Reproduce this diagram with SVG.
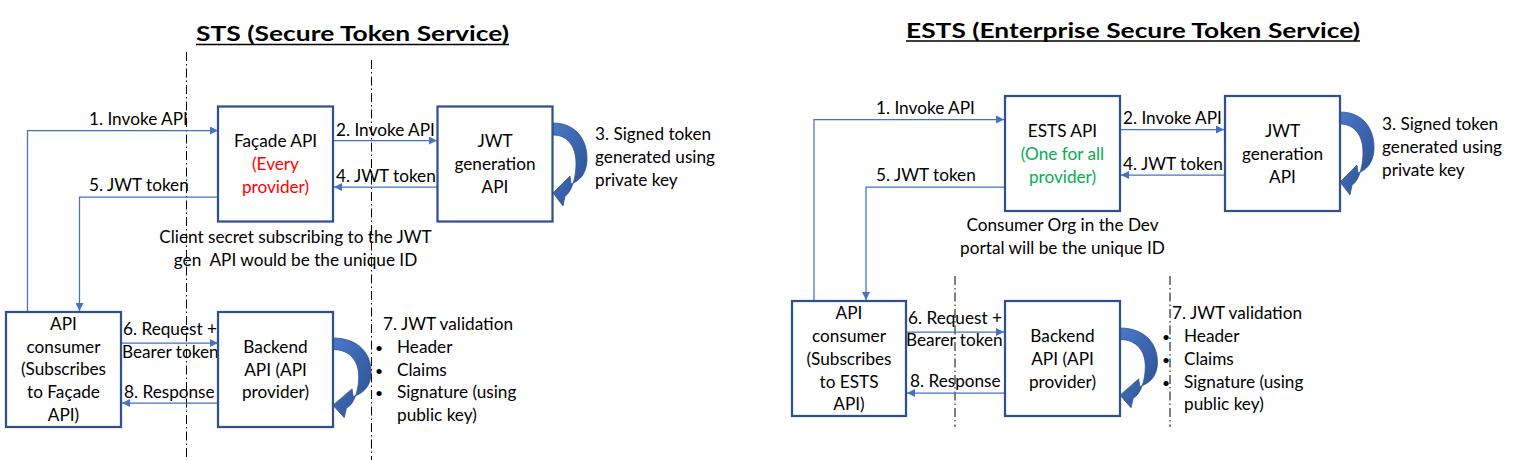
<svg xmlns="http://www.w3.org/2000/svg" width="1516" height="460" viewBox="0 0 1516 460">
<style>
text{font-family:Lato,"Liberation Sans",sans-serif;font-size:17.2px;fill:#000}
.c{text-anchor:middle}
.title{font-weight:bold;font-size:20px}
.red{fill:#FF0000}
.green{fill:#00B050}
.bul{font-size:14px}
.box{fill:#fff;stroke:#2F528F;stroke-width:2.25}
.con{fill:none;stroke:#4472C4;stroke-width:1.25}
.guide{fill:none;stroke:#000;stroke-width:1;stroke-dasharray:9 3 1.5 3}
.uline{stroke:#000;stroke-width:1.6}
</style>
<defs>
<marker id="ah" viewBox="0 0 10 10" refX="10" refY="5" markerWidth="10" markerHeight="8" markerUnits="userSpaceOnUse" orient="auto">
<path d="M0,0 L10,5 L0,10 z" fill="#4472C4"/>
</marker>
<linearGradient id="cg" x1="0" y1="0" x2="1" y2="1">
<stop offset="0" stop-color="#4A78C8"/>
<stop offset="1" stop-color="#2B4F90"/>
</linearGradient>
<path id="curl" d="M0,0 C24,0 35,18 34,38 C33,52 26,58 18,61 L17,53 L0,70 L10,83 L12,73 C18,70 23,56 23,40 C23,24 15,12 0,12 Z" fill="url(#cg)" stroke="#2F528F" stroke-width="0.75"/>
</defs>

<!-- titles -->
<g id="title-sts">
<text class="title" x="196" y="41" textLength="313" lengthAdjust="spacingAndGlyphs">STS (Secure Token Service)</text>
<line class="uline" x1="196" y1="44.5" x2="509" y2="44.5"/>
</g>
<g id="title-ests">
<text class="title" x="906" y="37.5" textLength="454" lengthAdjust="spacingAndGlyphs">ESTS (Enterprise Secure Token Service)</text>
<line class="uline" x1="906" y1="41" x2="1360" y2="41"/>
</g>

<!-- guide lines -->
<g id="guides">
<line class="guide" x1="186.5" y1="52" x2="186.5" y2="460"/>
<line class="guide" x1="371.5" y1="60" x2="371.5" y2="460"/>
<line class="guide" x1="955" y1="276" x2="955" y2="427"/>
<line class="guide" x1="1170" y1="276" x2="1170" y2="427"/>
</g>

<!-- connectors -->
<g id="connectors">
<path class="con" d="M27.5,312 V130.5 H218" marker-end="url(#ah)"/>
<path class="con" d="M220,197 H79.5 V311" marker-end="url(#ah)"/>
<path class="con" d="M333,140.5 H437" marker-end="url(#ah)"/>
<path class="con" d="M437,187 H334" marker-end="url(#ah)"/>
<path class="con" d="M121,343 H218" marker-end="url(#ah)"/>
<path class="con" d="M218,403 H122" marker-end="url(#ah)"/>

<path class="con" d="M814,301 V119.5 H1004" marker-end="url(#ah)"/>
<path class="con" d="M1005,187 H866 V300" marker-end="url(#ah)"/>
<path class="con" d="M1120,129.5 H1224" marker-end="url(#ah)"/>
<path class="con" d="M1225,175 H1121" marker-end="url(#ah)"/>
<path class="con" d="M906,332 H1004" marker-end="url(#ah)"/>
<path class="con" d="M1005,393 H907" marker-end="url(#ah)"/>

<use href="#curl" transform="translate(553,123)"/>
<use href="#curl" transform="translate(333,338) scale(1.12,0.96)"/>
<use href="#curl" transform="translate(1340,112)"/>
<use href="#curl" transform="translate(1120,328) scale(1.1,0.96)"/>
</g>

<!-- connector labels -->
<g id="labels">
<text x="89" y="125">1. Invoke API</text>
<text x="89" y="191">5. JWT token</text>
<text x="336" y="136">2. Invoke API</text>
<text x="336" y="181.5">4. JWT token</text>
<text x="595" y="140">3. Signed token</text>
<text x="595" y="163">generated using</text>
<text x="595" y="186">private key</text>
<text class="c" x="295.5" y="243">Client secret subscribing to the JWT</text>
<text class="c" x="295.5" y="266" xml:space="preserve">gen  API would be the unique ID</text>
<text x="123" y="335">6. Request +</text>
<text x="122" y="357.5">Bearer token</text>
<text x="124" y="397.5">8. Response</text>
<text x="383" y="330">7. JWT validation</text>
<text class="bul" x="375" y="353">•</text>
<text x="397" y="353">Header</text>
<text class="bul" x="375" y="375.5">•</text>
<text x="397" y="375.5">Claims</text>
<text class="bul" x="375" y="398">•</text>
<text x="397" y="398">Signature (using</text>
<text x="397" y="420.5">public key)</text>

<text x="876" y="113.5">1. Invoke API</text>
<text x="876" y="180.5">5. JWT token</text>
<text x="1123" y="123.5">2. Invoke API</text>
<text x="1123" y="170">4. JWT token</text>
<text x="1382" y="129.5">3. Signed token</text>
<text x="1382" y="152.5">generated using</text>
<text x="1382" y="175.5">private key</text>
<text class="c" x="1062.5" y="231">Consumer Org in the Dev</text>
<text class="c" x="1062.5" y="254">portal will be the unique ID</text>
<text x="908" y="323.5">6. Request +</text>
<text x="906" y="346">Bearer token</text>
<text x="910" y="387">8. Response</text>
<text x="1172" y="318.5">7. JWT validation</text>
<text class="bul" x="1162" y="341.5">•</text>
<text x="1184" y="341.5">Header</text>
<text class="bul" x="1162" y="364.5">•</text>
<text x="1184" y="364.5">Claims</text>
<text class="bul" x="1162" y="387.5">•</text>
<text x="1184" y="387.5">Signature (using</text>
<text x="1184" y="410">public key)</text>
</g>

<!-- STS nodes -->
<g id="facade-api">
<rect class="box" x="218" y="106.5" width="115" height="115"/>
<text class="c" x="275.5" y="147">Façade API</text>
<text class="c red" x="275.5" y="170">(Every</text>
<text class="c red" x="275.5" y="193">provider)</text>
</g>
<g id="jwt-gen-sts">
<rect class="box" x="437.5" y="106.5" width="115" height="115"/>
<text class="c" x="495" y="147">JWT</text>
<text class="c" x="495" y="170">generation</text>
<text class="c" x="495" y="193">API</text>
</g>
<g id="consumer-sts">
<rect class="box" x="6" y="312" width="115" height="115"/>
<text class="c" x="63.5" y="330">API</text>
<text class="c" x="63.5" y="352.7">consumer</text>
<text class="c" x="63.5" y="375.4">(Subscribes</text>
<text class="c" x="63.5" y="398.1">to Façade</text>
<text class="c" x="63.5" y="420.8">API)</text>
</g>
<g id="backend-sts">
<rect class="box" x="218" y="312" width="115" height="115"/>
<text class="c" x="275.5" y="353">Backend</text>
<text class="c" x="275.5" y="375.5">API (API</text>
<text class="c" x="275.5" y="398">provider)</text>
</g>

<!-- ESTS nodes -->
<g id="ests-api">
<rect class="box" x="1005" y="96" width="115" height="115"/>
<text class="c" x="1062.5" y="137">ESTS API</text>
<text class="c green" x="1062.5" y="160">(One for all</text>
<text class="c green" x="1062.5" y="183">provider)</text>
</g>
<g id="jwt-gen-ests">
<rect class="box" x="1225" y="96" width="115" height="115"/>
<text class="c" x="1282.5" y="137">JWT</text>
<text class="c" x="1282.5" y="160">generation</text>
<text class="c" x="1282.5" y="183">API</text>
</g>
<g id="consumer-ests">
<rect class="box" x="792" y="301" width="114" height="115"/>
<text class="c" x="849" y="318.5">API</text>
<text class="c" x="849" y="341.5">consumer</text>
<text class="c" x="849" y="364.5">(Subscribes</text>
<text class="c" x="849" y="387.5">to ESTS</text>
<text class="c" x="849" y="410">API)</text>
</g>
<g id="backend-ests">
<rect class="box" x="1005" y="301" width="115" height="115"/>
<text class="c" x="1062.5" y="341.5">Backend</text>
<text class="c" x="1062.5" y="364.5">API (API</text>
<text class="c" x="1062.5" y="387.5">provider)</text>
</g>
</svg>
